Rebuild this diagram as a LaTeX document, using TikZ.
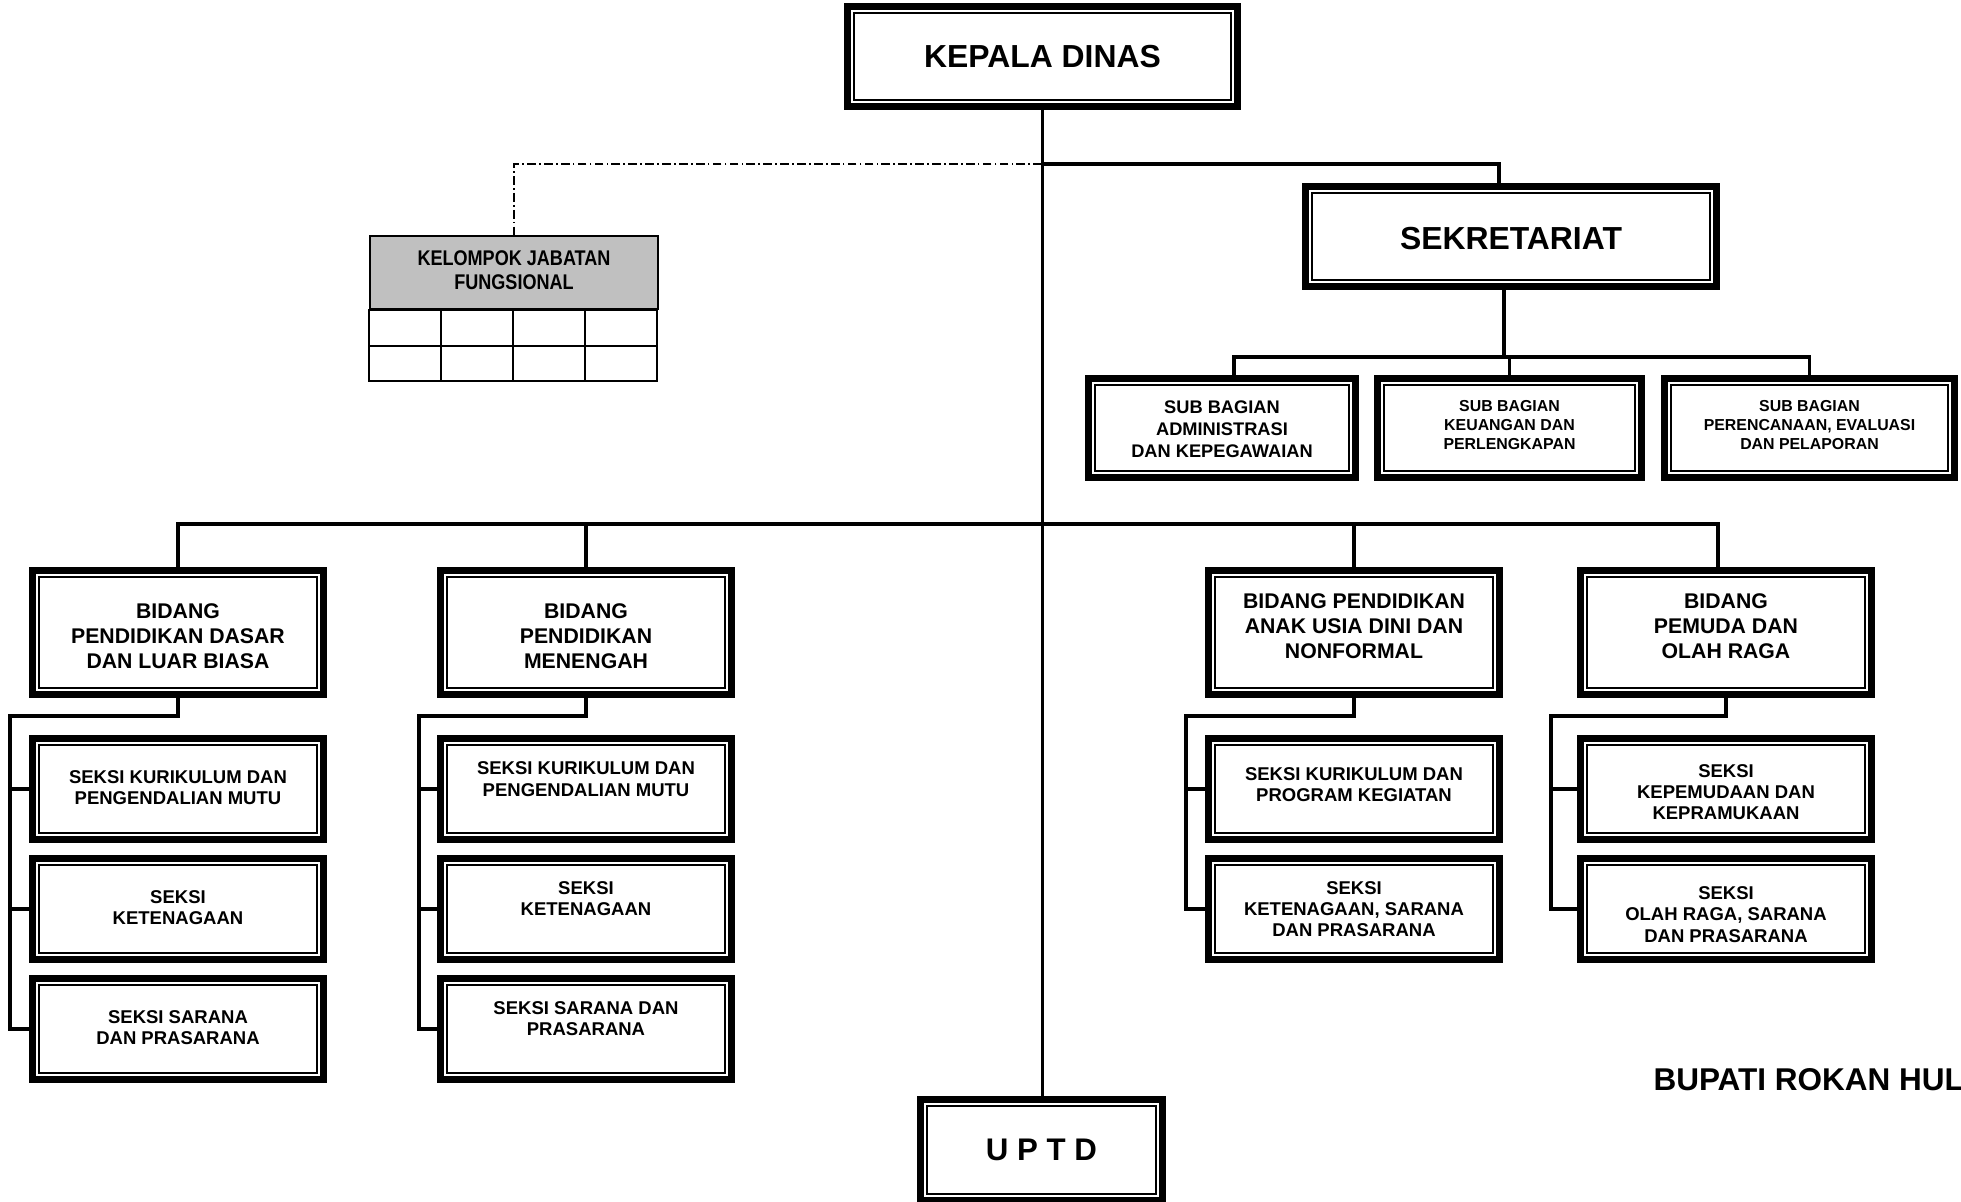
\documentclass[tikz,border=0pt]{standalone}
\usepackage{fontspec}
\setmainfont{Liberation Sans}
\newfontfamily\narrowsf{Liberation Sans}[FakeStretch=0.85]
\usetikzlibrary{calc}

% font sizes for the different box levels
\newcommand\fKepala{\bfseries\fontsize{12.75}{15}\selectfont}
\newcommand\fBidang{\bfseries\fontsize{8.5}{10}\selectfont}
\newcommand\fSeksi{\bfseries\fontsize{7.4}{8.5}\selectfont}
\newcommand\fSubA{\bfseries\fontsize{7.3}{8.75}\selectfont}
\newcommand\fSubB{\bfseries\fontsize{6.35}{7.5}\selectfont}
\newcommand\fKjf{\narrowsf\bfseries\fontsize{8.5}{9.5}\selectfont}
% centred block of lines, lifted by #1 without changing the box size
\newcommand\boxtext[2]{\raisebox{#1}[\height][\depth]{\parbox{100pt}{\centering #2}}}

\begin{document}
\begin{tikzpicture}[x=0.4pt,y=-0.4pt,
  unit box/.style 2 args={minimum width={(#1-7)*0.4pt}, minimum height={(#2-7)*0.4pt}},
  orgbox/.style={draw, line width=2.8pt, inner sep=0pt, fill=white,
    path picture={\draw[line width=0.7pt]
      ([xshift=2.5pt,yshift=-2.5pt]path picture bounding box.north west) rectangle
      ([xshift=-2.5pt,yshift=2.5pt]path picture bounding box.south east);}},
  bidang/.style={orgbox, unit box={298}{131}, font=\fBidang},
  seksi/.style={orgbox, unit box={298}{108}, font=\fSeksi},
  subbag/.style={orgbox, font=\fSubB},
  conn/.style={line width=1.25pt},
  dashdot line/.style={line width=0.65pt, dash pattern=on 3.5pt off 1.3pt on 0.65pt off 1.3pt},
  grid line/.style={line width=0.8pt},
]
\useasboundingbox (0,0) rectangle (1961,1201);
\clip (0,0) rectangle (1961,1201);
\fill[white] (0,0) rectangle (1961,1201);

% ---- top level
\node[orgbox, unit box={397}{107}, font=\fKepala] (kd) at (1042.5,56.5) {KEPALA DINAS};
\node[orgbox, unit box={418}{107}, font=\fKepala] (sek) at (1511,236.5) {\boxtext{-0.8pt}{SEKRETARIAT}};

% ---- sub bagian
\node[orgbox, unit box={274}{106}, font=\fSubA] (sb1) at (1222,428)
  {\boxtext{-0.4pt}{SUB BAGIAN\\ADMINISTRASI\\DAN KEPEGAWAIAN}};
\node[subbag, unit box={271}{106}] (sb2) at (1509.5,428)
  {\boxtext{1.2pt}{SUB BAGIAN\\KEUANGAN DAN\\PERLENGKAPAN}};
\node[subbag, unit box={297}{106}] (sb3) at (1809.5,428)
  {\boxtext{1.2pt}{SUB BAGIAN\\PERENCANAAN, EVALUASI\\DAN PELAPORAN}};

% ---- kelompok jabatan fungsional
\node[draw, line width=0.8pt, fill={rgb,255:red,192;green,192;blue,192},
      minimum width=115.2pt, minimum height=29.2pt, inner sep=0pt, font=\fKjf]
  (kjf) at (514,272.5) {\boxtext{1pt}{KELOMPOK JABATAN\\FUNGSIONAL}};
\draw[grid line] (kjf.south west) rectangle ++(288,71);
\draw[grid line] ($(kjf.south west)+(0,36)$) -- ++(288,0);
\foreach \k in {1,2,3}
  \draw[grid line] ($(kjf.south west)+(72*\k,0)$) -- ++(0,71);

% ---- bidang
\node[bidang] (b1) at (178,632.5) {\boxtext{-1.3pt}{BIDANG\\PENDIDIKAN DASAR\\DAN LUAR BIASA}};
\node[bidang] (b2) at (586,632.5) {\boxtext{-1.3pt}{BIDANG\\PENDIDIKAN\\MENENGAH}};
\node[bidang] (b3) at (1354,632.5) {\boxtext{2.4pt}{BIDANG PENDIDIKAN\\ANAK USIA DINI DAN\\NONFORMAL}};
\node[bidang] (b4) at (1726,632.5) {\boxtext{2.4pt}{BIDANG\\PEMUDA DAN\\OLAH RAGA}};

% ---- seksi
\node[seksi] (b1s1) at (178,789) {\boxtext{0.6pt}{SEKSI KURIKULUM DAN\\PENGENDALIAN MUTU}};
\node[seksi] (b1s2) at (178,909) {\boxtext{0.6pt}{SEKSI\\KETENAGAAN}};
\node[seksi] (b1s3) at (178,1029) {\boxtext{0.6pt}{SEKSI SARANA\\DAN PRASARANA}};

\node[seksi] (b2s1) at (586,789) {\boxtext{4pt}{SEKSI KURIKULUM DAN\\PENGENDALIAN MUTU}};
\node[seksi] (b2s2) at (586,909) {\boxtext{4.2pt}{SEKSI\\KETENAGAAN}};
\node[seksi] (b2s3) at (586,1029) {\boxtext{4.2pt}{SEKSI SARANA DAN\\PRASARANA}};

\node[seksi] (b3s1) at (1354,789) {\boxtext{1.8pt}{SEKSI KURIKULUM DAN\\PROGRAM KEGIATAN}};
\node[seksi] (b3s2) at (1354,909) {\boxtext{0pt}{SEKSI\\KETENAGAAN, SARANA\\DAN PRASARANA}};

\node[seksi] (b4s1) at (1726,789) {\boxtext{-1.2pt}{SEKSI\\KEPEMUDAAN DAN\\KEPRAMUKAAN}};
\node[seksi] (b4s2) at (1726,909) {\boxtext{-2.2pt}{SEKSI\\OLAH RAGA, SARANA\\DAN PRASARANA}};

% ---- UPTD
\node[orgbox, unit box={249}{108}, font=\bfseries\fontsize{12.5}{15}\selectfont] (uptd) at (1041.5,1150) {U P T D};

% ---- caption at the right
\node[anchor=base west, inner sep=0pt, font=\bfseries\fontsize{12.6}{15}\selectfont] (bupati) at (1653,1090) {BUPATI ROKAN HUL};

% ---- connectors
\coordinate (j1) at (1042,164);
\coordinate (sbar) at (1504,357);
\coordinate (mbar) at (1042,524);
\coordinate (r1) at (10,716);
\coordinate (r2) at (419,716);
\coordinate (r3) at (1186,716);
\coordinate (r4) at (1551,716);

\draw[conn] (kd.south) -- (kd.south |- uptd.north);
\draw[dashdot line] (j1) -| (kjf.north);
\draw[conn] (j1) -| ([xshift=-4.8pt]sek.north);

\draw[conn] ([xshift=-2.8pt]sek.south) -- ([xshift=-2.8pt]sek.south |- sbar);
\draw[conn] ([xshift=4.8pt]sb1.north) |- (sb3.north |- sbar) -- (sb3.north);
\draw[conn] (sb2.north) -- (sb2.north |- sbar);

\draw[conn] (b1.north) |- (mbar) -| ([xshift=-3.2pt]b4.north);
\draw[conn] (mbar) -| (b2.north);
\draw[conn] (mbar) -| (b3.north);

\draw[conn] (b1.south) |- (r1) |- (b1s3.west);
\draw[conn] (r1 |- b1s1.west) -- (b1s1.west);
\draw[conn] (r1 |- b1s2.west) -- (b1s2.west);

\draw[conn] (b2.south) |- (r2) |- (b2s3.west);
\draw[conn] (r2 |- b2s1.west) -- (b2s1.west);
\draw[conn] (r2 |- b2s2.west) -- (b2s2.west);

\draw[conn] (b3.south) |- (r3) |- (b3s2.west);
\draw[conn] (r3 |- b3s1.west) -- (b3s1.west);

\draw[conn] (b4.south) |- (r4) |- (b4s2.west);
\draw[conn] (r4 |- b4s1.west) -- (b4s1.west);
\end{tikzpicture}
\end{document}
